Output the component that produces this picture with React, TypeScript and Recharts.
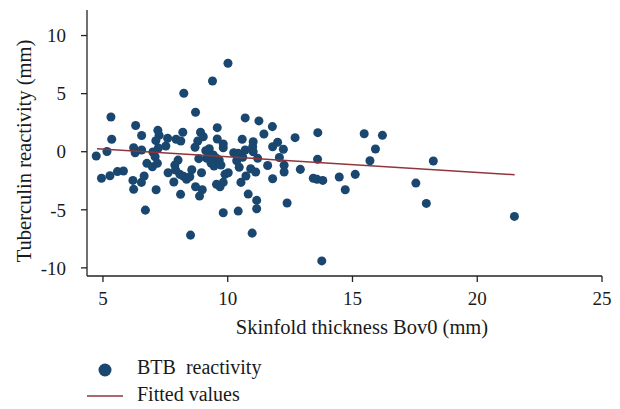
import React from 'react';
import {
  ScatterChart,
  Scatter,
  XAxis,
  YAxis,
  ZAxis,
  Label,
} from 'recharts';

// skinfold thickness Bov0 (mm)
const skinfold: number[] = [
  4.73, 5.16, 5.32, 5.35, 4.94, 5.28, 5.58, 5.82,
  6.31, 6.55, 6.23, 6.29, 6.55, 6.76, 6.2, 6.23, 6.54, 6.65, 6.7, 6.98,
  7.18, 7.0, 7.09, 7.13, 7.2, 7.25, 7.12, 7.22,
  7.59, 7.52, 7.61, 7.93, 8.12, 8.2, 8.24, 8.01, 7.88, 7.84, 7.91, 8.08,
  8.23, 8.35, 8.48, 8.56, 8.11, 8.51, 8.71, 8.8, 8.91, 9.02, 8.69, 8.84,
  8.71, 8.87, 8.98, 8.95,
  9.12, 9.26, 9.39, 9.58, 9.58, 9.82, 9.82, 10.01, 9.42, 9.55, 9.66, 9.16,
  9.33, 9.45, 9.55, 9.69, 9.82, 9.89, 10.02, 9.82, 10.24, 10.42, 10.36,
  10.46, 10.42, 9.25, 9.73,
  10.58, 10.7, 10.7, 11.02, 11.0, 11.02, 11.25, 11.2, 11.45, 11.79, 12.0,
  11.8, 12.23, 12.7, 10.6, 10.92, 10.53, 10.73, 11.12, 10.82, 11.16, 11.16,
  10.98, 11.6, 11.8, 12.07, 12.26, 12.26, 12.38,
  12.91, 13.61, 13.6, 13.43, 13.58, 13.81, 13.77, 14.47, 14.71, 15.11,
  15.47, 15.7, 15.92, 16.2, 17.54, 17.96, 18.24, 21.49,
];

// BTB reactivity (mm)
const reactivity: number[] = [
  -0.37, 0.02, 2.99, 1.07, -2.29, -2.07, -1.71, -1.66,
  2.26, 1.4, 0.34, -0.09, 0.15, -1.0, -2.47, -3.24, -2.64, -2.09, -5.03, -1.29,
  -1.0, -0.03, -0.43, -3.28, 1.84, 1.41, 0.95, 0.32,
  1.16, 0.49, -1.81, 1.07, 0.92, 1.67, 5.03, -0.72, -1.15, -2.61, -1.58, -1.95,
  -2.12, -2.38, -2.16, -1.55, -3.67, -7.18, 3.4, 0.92, 1.67, 1.29, 0.38, -0.6,
  -3.02, -3.82, -3.28, -1.81,
  0.09, 0.26, 6.09, 2.07, 1.09, 0.66, 0.34, 7.62, -0.28, -0.57, -0.72, -0.57,
  -0.97, -1.23, -2.81, -3.02, -2.64, -1.95, -1.81, -5.26, -0.09, -0.14, -0.78,
  -1.34, -5.11, -0.11, -1.15,
  1.07, 2.91, 0.15, 0.86, 0.43, 0.0, 2.65, -0.57, 1.53, 2.16, 0.81,
  0.43, 0.21, 1.21, -0.48, -1.47, -2.64, -2.09, -1.75, -3.65, -4.19, -4.91,
  -7.01, -1.19, -2.33, -0.5, -1.17, -1.75, -4.42,
  -1.52, 1.64, -0.65, -2.29, -2.38, -2.47, -9.4, -2.18, -3.28, -1.95,
  1.55, -0.78, 0.23, 1.41, -2.7, -4.45, -0.8, -5.57,
];

// fitted line end points
const fitX: number[] = [4.76, 21.5];
const fitY: number[] = [0.26, -1.98];

const xTicks = [5, 10, 15, 20, 25];
const yTicks = [-10, -5, 0, 5, 10];

const NAVY = '#1a476f';
const MAROON = '#90353b';
const INK = '#1a1a1a';
const FONT = '"Liberation Serif", "DejaVu Serif", serif';

const points = skinfold.map((x, i) => ({ x, y: reactivity[i] }));
const fitted = fitX.map((x, i) => ({ x, y: fitY[i] }));

const App: React.FC = () => {
  return (
    <div style={{ position: 'absolute', left: 0, top: 0, width: 620, height: 409, background: '#fff' }}>
      <ScatterChart width={620} height={409} margin={{ top: 10, right: 18, bottom: 63, left: 0 }}>
        <XAxis
          type="number"
          dataKey="x"
          domain={[4.36, 25]}
          ticks={xTicks}
          height={70}
          tickSize={6}
          tickMargin={10}
          stroke="#222"
          strokeWidth={1.3}
          tick={{ fill: INK, fontSize: 19, fontFamily: FONT }}
          allowDataOverflow
        >
          <Label
            content={() => (
              <text x={362} y={334} textAnchor="middle" fill={INK} fontSize={20.5} fontFamily={FONT}>
                Skinfold thickness Bov0 (mm)
              </text>
            )}
          />
        </XAxis>
        <YAxis
          type="number"
          dataKey="y"
          domain={[-10.7, 12.2]}
          ticks={yTicks}
          width={87}
          tickSize={6}
          tickMargin={15}
          stroke="#222"
          strokeWidth={1.3}
          tick={{ fill: INK, fontSize: 19, fontFamily: FONT }}
          allowDataOverflow
        >
          <Label
            content={() => (
              <text
                transform="translate(31,151) rotate(-90)"
                textAnchor="middle"
                fill={INK}
                fontSize={20.5}
                fontFamily={FONT}
              >
                Tuberculin reactivity (mm)
              </text>
            )}
          />
        </YAxis>
        <ZAxis range={[62, 62]} />
        <Scatter data={points} fill={NAVY} shape="circle" isAnimationActive={false} />
        <Scatter
          data={fitted}
          line={{ stroke: MAROON, strokeWidth: 1.5 }}
          shape={() => null}
          isAnimationActive={false}
        />
      </ScatterChart>

      {/* Legend */}
      <div style={{ position: 'absolute', left: 0, top: 355, width: 320, fontFamily: FONT, fontSize: 20, color: INK }}>
        <div style={{ position: 'relative', height: 27 }}>
          <svg width={20} height={20} style={{ position: 'absolute', left: 95, top: 5 }}>
            <circle cx={10} cy={10} r={6.5} fill={NAVY} />
          </svg>
          <span style={{ position: 'absolute', left: 137, top: 1, wordSpacing: 5 }}>BTB reactivity</span>
        </div>
        <div style={{ position: 'relative', height: 27 }}>
          <svg width={40} height={10} style={{ position: 'absolute', left: 87, top: 9 }}>
            <line x1={0} y1={5} x2={36} y2={5} stroke={MAROON} strokeWidth={1.5} />
          </svg>
          <span style={{ position: 'absolute', left: 137, top: 1 }}>Fitted values</span>
        </div>
      </div>
    </div>
  );
};

export default App;
